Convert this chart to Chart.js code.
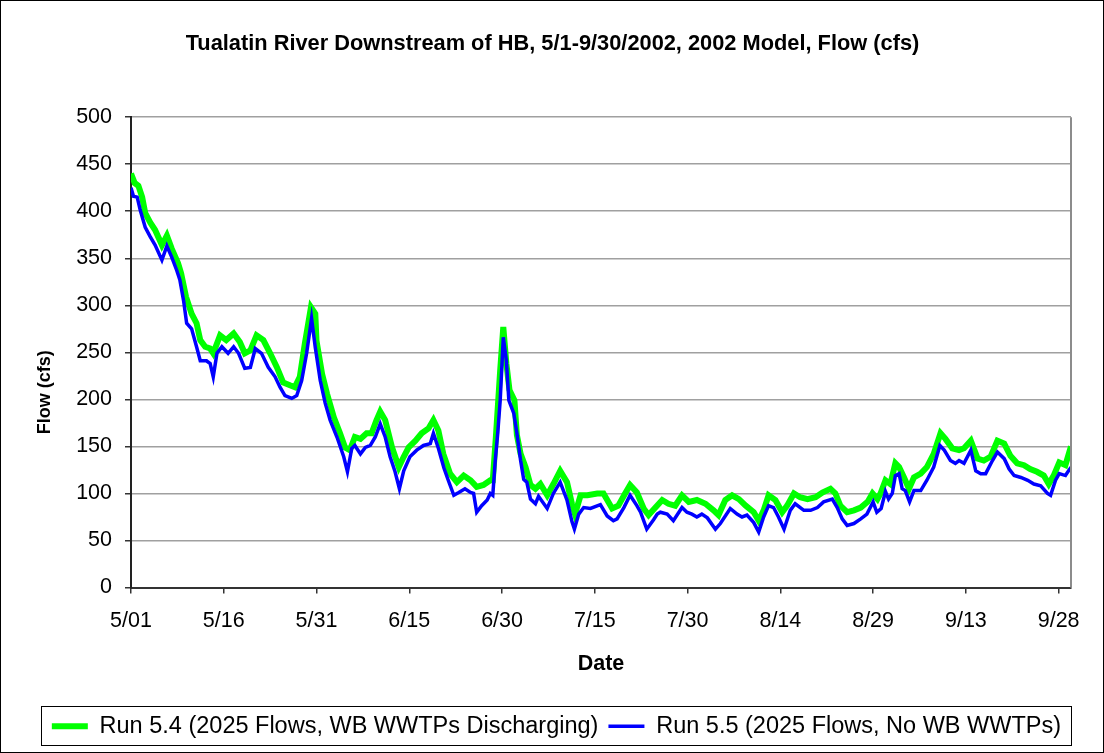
<!DOCTYPE html>
<html>
<head>
<meta charset="utf-8">
<title>Tualatin River Downstream of HB</title>
<script src="https://cdn.jsdelivr.net/npm/chart.js@4.4.1/dist/chart.umd.min.js"></script>
<style>
  html, body { margin: 0; padding: 0; background: #fff; }
  canvas { display: block; }
</style>
</head>
<body>
<canvas id="flowChart" width="1104" height="753"></canvas>
<script>
// x values are days after 5/01/2002
const xTickLabels = ["5/01", "5/16", "5/31", "6/15", "6/30", "7/15", "7/30", "8/14", "8/29", "9/13", "9/28"];

// Run 5.4 (2025 Flows, WB WWTPs Discharging)
const run54Days = [0, 0.6, 1.2, 1.8, 2.3, 3.1, 3.9, 5.0, 5.8, 6.6, 7.6, 8.1, 8.9, 9.8, 10.6, 11.2, 12.0, 12.8, 13.3,
  14.4, 15.4, 16.6, 17.6, 18.4, 19.3, 20.3, 21.4, 22.5, 23.6, 24.6, 25.7, 26.5, 27.3, 28.1, 29.1, 29.8, 30.0, 30.9,
  31.7, 32.8, 33.8, 34.6, 35.4, 36.2, 37.1, 38.1, 38.9, 39.7, 40.3, 41.1, 42.2, 43.3, 44.1, 44.9, 46.0, 47.0, 48.1,
  48.9, 49.7, 50.5, 51.6, 52.7, 53.8, 54.9, 55.9, 57.0, 58.1, 58.5, 59.0, 59.7, 60.2, 60.7, 61.2, 62.0, 62.4, 63.0,
  63.8, 64.6, 65.4, 66.2, 67.3, 68.3, 69.4, 70.5, 71.3, 71.8, 72.7, 73.8, 75.4, 76.4, 77.8, 78.8, 79.9, 80.7, 81.8,
  82.9, 83.7, 84.8, 85.9, 86.9, 88.0, 89.1, 90.2, 91.5, 92.9, 94.2, 95.0, 96.1, 97.2, 98.3, 99.4, 100.7, 101.5,
  102.3, 103.1, 104.2, 105.3, 106.1, 107.2, 108.2, 109.4, 110.7, 111.8, 113.1, 113.9, 114.7, 115.8, 116.9, 118.0,
  119.1, 119.9, 120.7, 121.2, 122.0, 122.8, 123.6, 124.2, 125.0, 125.8, 126.6, 127.7, 128.7, 129.8, 130.9, 131.7,
  132.8, 133.9, 134.7, 135.8, 136.9, 137.9, 139.0, 140.1, 141.2, 142.2, 143.3, 144.4, 145.4, 146.5, 147.6, 148.4,
  149.2, 150.1, 151.1, 152.0];
const run54Flow = [440, 430, 427, 415, 398, 388, 380, 364, 374, 360, 345, 334, 309, 291, 281, 263, 256, 254, 249,
  268, 263, 270, 261, 249, 252, 268, 263, 249, 234, 218, 215, 213, 224, 259, 298, 291, 262, 227,
  206, 181, 164, 149, 146, 160, 158, 164, 164, 178, 187, 178, 149, 128, 139, 149, 156, 164, 169,
  178, 167, 142, 121, 112, 119, 114, 107, 109, 114, 114, 160, 231, 277, 238, 210, 199, 162, 142,
  128, 109, 105, 110, 98, 110, 124, 112, 89, 78, 98, 98, 100, 100, 84, 87, 100, 109, 101,
  84, 77, 85, 93, 89, 87, 98, 91, 93, 89, 82, 77, 93, 98, 94, 87, 80, 71,
  82, 98, 93, 80, 87, 100, 96, 94, 96, 101, 105, 100, 87, 80, 82, 85,
  91, 100, 94, 100, 114, 110, 132, 128, 117, 105, 117, 121, 128, 142, 164, 158,
  148, 146, 148, 156, 137, 135, 139, 156, 153, 140, 132, 130, 126, 123, 119, 110,
  119, 133, 130, 150];

// Run 5.5 (2025 Flows, No WB WWTPs)
const run55Days = [0, 0.4, 1.0, 1.5, 2.3, 3.1, 3.9, 5.0, 5.8, 6.6, 7.4, 7.9, 8.5, 9.0, 9.8, 10.6, 11.2, 12.2, 12.8,
  13.3, 13.9, 14.7, 15.7, 16.6, 17.4, 18.4, 19.3, 20.1, 21.1, 22.2, 23.3, 24.1, 24.9, 26.0, 26.8, 27.6, 28.4, 29.2,
  29.8, 30.6, 31.4, 32.2, 33.3, 34.4, 35.0, 35.7, 36.2, 37.1, 37.9, 38.7, 39.5, 40.3, 41.1, 41.9, 42.7, 43.4, 44.1,
  45.1, 46.2, 47.3, 48.4, 48.9, 49.7, 50.6, 51.3, 52.2, 53.0, 54.0, 54.9, 55.4, 55.9, 56.7, 57.6, 58.1, 58.5, 58.9,
  59.3, 59.7, 60.2, 60.7, 61.1, 61.9, 62.4, 63.0, 63.5, 64.0, 64.6, 65.4, 65.9, 67.3, 68.3, 69.4, 70.5, 71.3, 71.7,
  72.4, 73.2, 74.3, 75.9, 77.0, 78.0, 78.6, 79.7, 80.7, 81.8, 82.4, 83.4, 84.5, 85.1, 85.6, 86.7, 87.7, 89.1, 89.9,
  90.7, 91.5, 92.3, 93.2, 94.5, 95.3, 96.9, 98.0, 98.8, 99.6, 100.7, 101.5, 102.3, 103.1, 103.9, 104.7, 105.6,
  106.6, 107.4, 108.8, 109.9, 111.0, 112.0, 113.4, 114.2, 115.0, 115.8, 116.9, 118.0, 119.0, 120.0, 120.6, 121.3,
  122.0, 122.5, 123.1, 123.6, 124.2, 124.7, 125.2, 125.9, 126.6, 127.7, 128.7, 129.8, 130.8, 131.5, 132.5, 133.3,
  133.9, 134.7, 135.8, 136.6, 137.4, 138.2, 139.3, 140.1, 141.2, 142.0, 142.8, 143.9, 145.0, 146.0, 147.1, 148.2,
  148.7, 149.5, 150.1, 151.1, 152.0];
const run55Flow = [425, 416, 415, 401, 383, 373, 364, 348, 363, 351, 337, 327, 305, 281, 275, 256, 241, 241, 238,
  224, 249, 256, 249, 256, 249, 233, 234, 254, 249, 234, 224, 213, 204, 201, 204, 220, 249, 286,
  255, 220, 196, 178, 160, 139, 123, 148, 151, 142, 149, 151, 160, 174, 160, 139, 123, 105, 124,
  139, 146, 151, 153, 164, 148, 127, 114, 98, 101, 105, 101, 100, 80, 87, 93, 100, 98, 135,
  164, 199, 266, 241, 199, 185, 164, 135, 115, 112, 94, 89, 97, 84, 100, 112, 93, 70, 62,
  78, 85, 84, 88, 76, 71, 73, 85, 98, 87, 80, 62, 72, 78, 80, 78, 71, 85, 80,
  78, 75, 78, 74, 62, 68, 84, 78, 75, 77, 69, 59, 75, 87, 85, 75, 62,
  82, 89, 82, 82, 85, 91, 94, 85, 73, 66, 68, 73, 78, 91, 80, 84,
  102, 94, 100, 119, 121, 105, 103, 91, 103, 103, 114, 128, 151, 146, 135, 132,
  135, 132, 146, 124, 121, 121, 135, 144, 137, 126, 119, 117, 114, 110, 108, 100,
  98, 114, 121, 119, 128];

const FONT = "'Liberation Sans', Arial, Helvetica, sans-serif";
const yTitle = "Flow (cfs)";

// white page, outer frame, plot right border, y title and legend box
const framePlugin = {
  id: "frame",
  beforeDraw(chart) {
    const ctx = chart.ctx;
    ctx.save();
    ctx.fillStyle = "#fff";
    ctx.fillRect(0, 0, chart.width, chart.height);
    ctx.restore();
  },
  afterDraw(chart) {
    const ctx = chart.ctx;
    const area = chart.chartArea;
    ctx.save();
    ctx.strokeStyle = "#8c8c8c";
    ctx.lineWidth = 2;
    ctx.beginPath();
    ctx.moveTo(area.right, area.top);
    ctx.lineTo(area.right, area.bottom);
    ctx.stroke();

    ctx.strokeStyle = "#000";
    ctx.lineWidth = 1;
    ctx.strokeRect(0.5, 0.5, chart.width - 1, chart.height - 1);

    // axis title sits a bit below the middle of the plot, as in the original
    ctx.save();
    ctx.translate(45, area.top + (area.bottom - area.top) * 0.585);
    ctx.rotate(-Math.PI / 2);
    ctx.fillStyle = "#000";
    ctx.font = "bold 18px " + FONT;
    ctx.textAlign = "center";
    ctx.textBaseline = "middle";
    ctx.fillText(yTitle, 0, 0);
    ctx.restore();

    const boxes = chart.legend.legendHitBoxes;
    if (boxes && boxes.length) {
      const left = Math.min(...boxes.map(b => b.left)) - 11;
      const right = Math.max(...boxes.map(b => b.left + b.width)) + 10;
      const mid = boxes[0].top + boxes[0].height / 2;
      ctx.strokeRect(Math.round(left) + 0.5, Math.round(mid - 20) + 0.5, Math.round(right - left), 39);
    }
    ctx.restore();
  }
};

const ctx = document.getElementById("flowChart").getContext("2d");
new Chart(ctx, {
  type: "line",
  data: {
    datasets: [
      {
        label: "Run 5.4 (2025 Flows, WB WWTPs Discharging)",
        data: run54Days.map((d, i) => ({ x: d, y: run54Flow[i] })),
        borderColor: "#00ff00",
        backgroundColor: "#00ff00",
        borderWidth: 6,
        pointRadius: 0,
        tension: 0,
        order: 2
      },
      {
        label: "Run 5.5 (2025 Flows, No WB WWTPs)",
        data: run55Days.map((d, i) => ({ x: d, y: run55Flow[i] })),
        borderColor: "#0000ff",
        backgroundColor: "#0000ff",
        borderWidth: 3.5,
        pointRadius: 0,
        tension: 0,
        order: 1
      }
    ]
  },
  options: {
    responsive: false,
    animation: false,
    devicePixelRatio: 1,
    layout: { padding: { left: 34, right: 33, top: 0, bottom: 5 } },
    plugins: {
      title: {
        display: true,
        text: "Tualatin River Downstream of HB, 5/1-9/30/2002, 2002 Model, Flow (cfs)",
        color: "#000",
        font: { family: FONT, size: 21.8, weight: "bold" },
        padding: { top: 31, bottom: 60 }
      },
      legend: {
        position: "bottom",
        align: "end",
        labels: {
          color: "#000",
          font: { family: FONT, size: 23.5 },
          usePointStyle: true,
          pointStyle: "line",
          pointStyleWidth: 36,
          padding: 10,
          sort: (a, b) => a.datasetIndex - b.datasetIndex
        }
      },
      tooltip: { enabled: false }
    },
    scales: {
      x: {
        type: "linear",
        min: 0,
        max: 152,
        afterFit(scale) { scale.height = 117; },
        ticks: {
          stepSize: 15,
          includeBounds: false,
          autoSkip: false,
          maxRotation: 0,
          padding: 15,
          color: "#000",
          font: { family: FONT, size: 21.5 },
          callback: (value, index) => xTickLabels[index]
        },
        grid: {
          drawOnChartArea: false,
          drawTicks: true,
          tickLength: 6,
          tickColor: "#333",
          lineWidth: 1.5
        },
        border: { display: true, color: "#333", width: 2 },
        title: {
          display: true,
          text: "Date",
          color: "#000",
          font: { family: FONT, size: 21.5, weight: "bold" },
          padding: { top: 0, bottom: 28 }
        }
      },
      y: {
        min: 0,
        max: 500,
        afterFit(scale) { scale.width = 97; },
        ticks: {
          stepSize: 50,
          padding: 13,
          color: "#000",
          font: { family: FONT, size: 21.5 }
        },
        grid: {
          color: "#a0a0a0",
          lineWidth: 1.5,
          tickLength: 6,
          tickColor: "#333"
        },
        border: { display: true, color: "#222", width: 2 },
        title: { display: false }
      }
    }
  },
  plugins: [framePlugin]
});
</script>
</body>
</html>
